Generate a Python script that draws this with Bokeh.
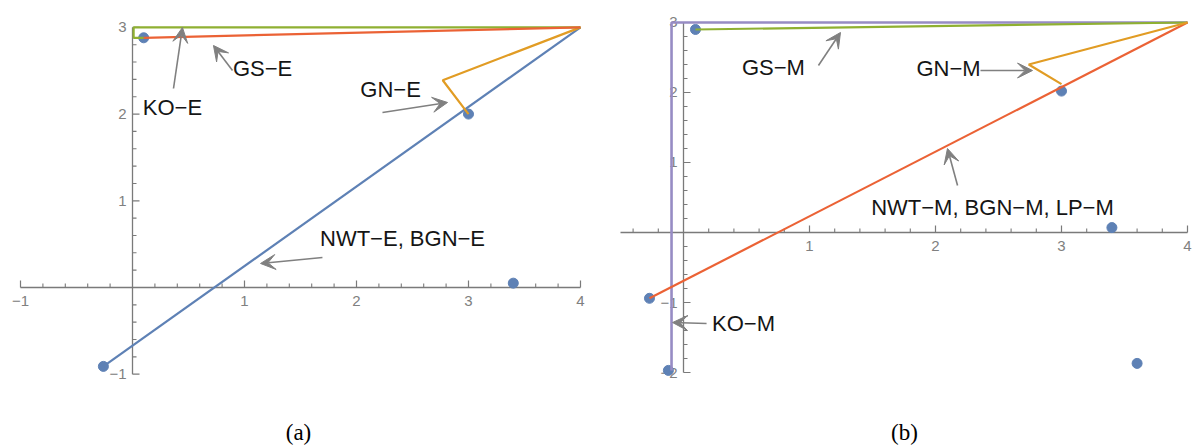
import numpy as np
from bokeh.plotting import figure
from bokeh.layouts import row
from bokeh.models import Label, Arrow, VeeHead, ColumnDataSource
from bokeh.embed import file_html
from bokeh.resources import INLINE
from bokeh.core.properties import value

# ---------------- data: panel (a) ----------------
a_pts_x = [-0.26, 0.10, 3.0, 3.4]
a_pts_y = [-0.91, 2.88, 2.0, 0.05]
a_nwt_x = [-0.26, 4.0]
a_nwt_y = [-0.91, 3.0]
a_gn_x = [3.0, 2.77, 4.0]
a_gn_y = [2.0, 2.39, 3.0]
a_ko_x = [0.10, 0.01, 0.01, 4.0]
a_ko_y = [2.88, 2.88, 3.0, 3.0]
a_gs_x = [0.10, 4.0]
a_gs_y = [2.88, 3.0]

a_xticks = [-1, 1, 2, 3, 4]
a_xtick_labels = ["\u22121", "1", "2", "3", "4"]
a_yticks = [-1, 1, 2, 3]
a_ytick_labels = ["\u22121", "1", "2", "3"]

a_labels = ["KO\u2212E", "GS\u2212E", "GN\u2212E", "NWT\u2212E, BGN\u2212E"]
a_label_x = [0.357, 1.161, 2.304, 2.411]
a_label_y = [2.076, 2.526, 2.284, 0.565]
a_arrow_x0 = [0.366, 0.893, 2.232, 1.696]
a_arrow_y0 = [2.295, 2.503, 2.018, 0.346]
a_arrow_x1 = [0.446, 0.723, 2.813, 1.143]
a_arrow_y1 = [2.999, 2.791, 2.134, 0.277]

# ---------------- data: panel (b) ----------------
b_pts_x = [0.095, 3.0, 3.4, 3.6, -0.27, -0.12]
b_pts_y = [2.90, 2.02, 0.07, -1.87, -0.94, -1.97]
b_nwt_x = [-0.27, 4.0]
b_nwt_y = [-0.94, 3.0]
b_gn_x = [3.0, 2.74, 4.0]
b_gn_y = [2.12, 2.40, 3.0]
b_gs_x = [0.095, 4.0]
b_gs_y = [2.90, 3.0]
b_ko_x = [-0.095, -0.095, 4.0]
b_ko_y = [-1.97, 3.0, 3.0]

b_xticks = [1, 2, 3, 4]
b_xtick_labels = ["1", "2", "3", "4"]
b_yticks = [-2, -1, 1, 2, 3]
b_ytick_labels = ["\u22122", "\u22121", "1", "2", "3"]

b_labels = ["GS\u2212M", "GN\u2212M", "NWT\u2212M, BGN\u2212M, LP\u2212M", "KO\u2212M"]
b_label_x = [0.714, 2.103, 2.452, 0.476]
b_label_y = [2.357, 2.343, 0.357, -1.30]
b_arrow_x0 = [1.071, 2.357, 2.175, 0.183]
b_arrow_y0 = [2.386, 2.314, 0.671, -1.30]
b_arrow_x1 = [1.246, 2.770, 2.095, -0.087]
b_arrow_y1 = [2.857, 2.314, 1.200, -1.286]

BLUE = "#5E81B5"
ORANGE = "#E19C24"
GREEN = "#8FB032"
RED = "#EB6235"
PURPLE = "#978CC4"
AXIS = "#7a7a7a"
TICKLAB = "#808080"
ARROW = "#808080"
FONT = "Liberation Sans"


def make_fig(w, h, xr, yr):
    p = figure(width=w, height=h, x_range=xr, y_range=yr,
               output_backend="svg", toolbar_location=None,
               min_border=0, min_border_left=0, min_border_right=0,
               min_border_top=0, min_border_bottom=0)
    p.xaxis.visible = False
    p.yaxis.visible = False
    p.grid.visible = False
    p.outline_line_color = None
    p.background_fill_color = "white"
    p.border_fill_color = "white"
    return p


def draw_axes(p, w, h, xr, yr, xext, yext, xticks, xlabs, yticks, ylabs,
              lab_dy_px, lab_dx_px):
    sx = w / (xr[1] - xr[0])   # px per unit
    sy = h / (yr[1] - yr[0])
    p.segment(x0=[xext[0], 0], y0=[0, yext[0]], x1=[xext[1], 0], y1=[0, yext[1]],
              line_color=AXIS, line_width=1.3)
    xm = [t for t in np.round(np.arange(np.ceil(xext[0] * 5) / 5, xext[1] + 1e-9, 0.2), 2)
          if abs(t) > 1e-9 and abs(t - round(t)) > 1e-9]
    ym = [t for t in np.round(np.arange(np.ceil(yext[0] * 5) / 5, yext[1] + 1e-9, 0.2), 2)
          if abs(t) > 1e-9 and abs(t - round(t)) > 1e-9]
    p.segment(x0=xm, y0=[0] * len(xm), x1=xm, y1=[4 / sy] * len(xm),
              line_color=AXIS, line_width=1.1)
    p.segment(x0=[0] * len(ym), y0=ym, x1=[4 / sx] * len(ym), y1=ym,
              line_color=AXIS, line_width=1.1)
    p.segment(x0=xticks, y0=[0] * len(xticks), x1=xticks, y1=[7 / sy] * len(xticks),
              line_color=AXIS, line_width=1.2)
    p.segment(x0=[0] * len(yticks), y0=yticks, x1=[7 / sx] * len(yticks), y1=yticks,
              line_color=AXIS, line_width=1.2)
    p.text(x=xticks, y=[-lab_dy_px / sy] * len(xticks), text=xlabs,
           text_align="center", text_baseline="middle",
           text_font=value(FONT), text_font_size="15px", text_color=TICKLAB)
    p.text(x=[-lab_dx_px / sx] * len(yticks), y=yticks, text=ylabs,
           text_align="right", text_baseline="middle",
           text_font=value(FONT), text_font_size="15px", text_color=TICKLAB)


def annotate(p, labels, lx, ly, x0, y0, x1, y1):
    src = ColumnDataSource(dict(x0=x0, y0=y0, x1=x1, y1=y1))
    p.add_layout(Arrow(end=VeeHead(size=15, fill_color=ARROW, line_color=ARROW, line_width=1),
                       x_start="x0", y_start="y0", x_end="x1", y_end="y1",
                       source=src, line_color=ARROW, line_width=1.6))
    p.text(x=lx, y=ly, text=labels, text_align="center", text_baseline="middle",
           text_font=value(FONT), text_font_size="22px", text_color="#151515")


H = 446

# ---------------- panel (a) ----------------
WA = 596
XRA = (-1.1786, 4.1429)
YRA = (-1.834, 3.310)
pa = make_fig(WA, H, XRA, YRA)
draw_axes(pa, WA, H, XRA, YRA, (-1.0, 4.0), (-1.0, 3.0),
          a_xticks, a_xtick_labels, a_yticks, a_ytick_labels, 14, 6)
pa.scatter(a_pts_x, a_pts_y, size=10, color=BLUE)
pa.line(a_nwt_x, a_nwt_y, line_color=BLUE, line_width=2.2)
pa.line(a_gn_x, a_gn_y, line_color=ORANGE, line_width=2.2)
pa.line(a_ko_x, a_ko_y, line_color=GREEN, line_width=2.2)
pa.line(a_gs_x, a_gs_y, line_color=RED, line_width=2.2)
annotate(pa, a_labels, a_label_x, a_label_y, a_arrow_x0, a_arrow_y0, a_arrow_x1, a_arrow_y1)
pa.add_layout(Label(x=298, y=14, x_units="screen", y_units="screen", text="(a)",
                    text_align="center", text_baseline="middle",
                    text_font="Liberation Serif", text_font_size="23px", text_color="black"))

# ---------------- panel (b) ----------------
WB = 596
XRB = (-0.6905, 4.0397)
YRB = (-3.057, 3.314)
pb = make_fig(WB, H, XRB, YRB)
draw_axes(pb, WB, H, XRB, YRB, (-0.5, 4.0), (-2.0, 3.0),
          b_xticks, b_xtick_labels, b_yticks, b_ytick_labels, 14, 6)
pb.scatter(b_pts_x, b_pts_y, size=10, color=BLUE)
pb.line(b_ko_x, b_ko_y, line_color=PURPLE, line_width=2.6)
pb.line(b_gs_x, b_gs_y, line_color=GREEN, line_width=2.2)
pb.line(b_nwt_x, b_nwt_y, line_color=RED, line_width=2.2)
pb.line(b_gn_x, b_gn_y, line_color=ORANGE, line_width=2.2)
annotate(pb, b_labels, b_label_x, b_label_y, b_arrow_x0, b_arrow_y0, b_arrow_x1, b_arrow_y1)
pb.add_layout(Label(x=308, y=14, x_units="screen", y_units="screen", text="(b)",
                    text_align="center", text_baseline="middle",
                    text_font="Liberation Serif", text_font_size="23px", text_color="black"))

layout = row(pa, pb, spacing=0)
open("out.html", "w").write(file_html(layout, INLINE))
